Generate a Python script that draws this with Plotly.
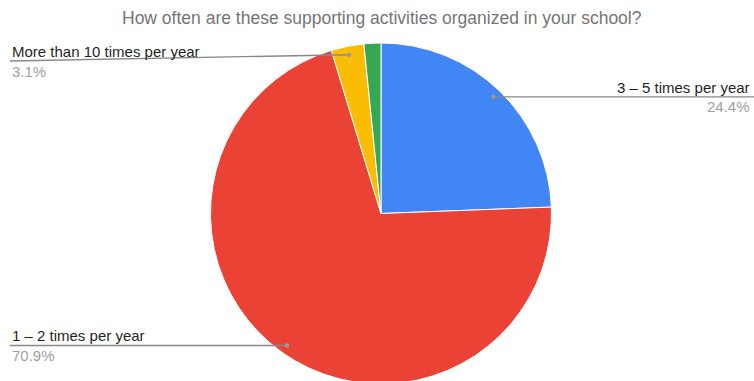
import math
import plotly.graph_objects as go

# Survey answers and their shares (percent)
categories = ["3 – 5 times per year", "1 – 2 times per year", "More than 10 times per year", "6 – 10 times per year"]
shares = [24.4, 70.9, 3.1, 1.6]
colors = ["#4285F4", "#EA4335", "#FBBC04", "#34A853"]
title_text = "How often are these supporting activities organized in your school?"

# Which slices get an outside label, and where the label sits
labelled = [0, 1, 2]
label_side = {0: "right", 1: "left", 2: "left"}
label_line_y = {0: None, 1: None, 2: 61}

W, H = 754, 386
CX, CY, R = 381.0, 213.5, 170.5

fig = go.Figure()
fig.add_trace(go.Pie(
    labels=categories,
    values=shares,
    sort=False,
    direction="clockwise",
    rotation=0,
    textinfo="none",
    hoverinfo="label+percent",
    marker=dict(colors=colors, line=dict(color="white", width=1)),
    domain=dict(x=[(CX - R) / W, (CX + R) / W], y=[1 - (CY + R) / H, 1 - (CY - R) / H]),
    showlegend=False,
))

# Invisible pixel-space axes used to place leader lines and labels
fig.add_trace(go.Scatter(x=[0, W], y=[0, H], mode="markers", marker=dict(opacity=0),
                         hoverinfo="skip", showlegend=False))

shapes, annotations = [], []
total = sum(shares)
cum = 0.0
mids = []
for v in shares:
    mids.append((cum + v / 2) / total * 2 * math.pi)
    cum += v

line_col = "#888888"
for i in labelled:
    a = mids[i]
    dx = CX + 0.95 * R * math.sin(a)
    dy = CY - 0.95 * R * math.cos(a)
    ly = label_line_y[i] if label_line_y[i] is not None else dy
    if label_side[i] == "right":
        x_end, anchor, tx = W, "right", W - 2
    else:
        x_end, anchor, tx = 10, "left", 10
    shapes.append(dict(type="line", xref="x", yref="y", x0=dx, y0=dy, x1=x_end, y1=ly,
                       line=dict(color=line_col, width=1.4), layer="above"))
    shapes.append(dict(type="circle", xref="x", yref="y", x0=dx - 2.2, x1=dx + 2.2,
                       y0=dy - 2.2, y1=dy + 2.2, fillcolor="#9a9a9a",
                       line=dict(width=0), layer="above"))
    annotations.append(dict(xref="x", yref="y", x=tx, y=ly - 9.5, text=categories[i],
                            showarrow=False, xanchor=anchor, yanchor="middle",
                            font=dict(family="Arial, Liberation Sans", size=15, color="#1f1f1f")))
    annotations.append(dict(xref="x", yref="y", x=tx, y=ly + 10, text=f"{shares[i]:.1f}%",
                            showarrow=False, xanchor=anchor, yanchor="middle",
                            font=dict(family="Arial, Liberation Sans", size=15, color="#a0a0a0")))

annotations.append(dict(xref="x", yref="y", x=W / 2 + 5, y=18, text=title_text, showarrow=False,
                        xanchor="center", yanchor="middle",
                        font=dict(family="Arial, Liberation Sans", size=17.5, color="#757575")))

fig.update_layout(
    width=W, height=H,
    margin=dict(l=0, r=0, t=0, b=0),
    paper_bgcolor="white", plot_bgcolor="white",
    xaxis=dict(range=[0, W], visible=False, fixedrange=True, domain=[0, 1]),
    yaxis=dict(range=[H, 0], visible=False, fixedrange=True, domain=[0, 1]),
    shapes=shapes,
    annotations=annotations,
)

fig.write_html("out.html", config={"displayModeBar": False},
               post_script="document.documentElement.style.overflow='hidden';document.body.style.overflow='hidden';")
